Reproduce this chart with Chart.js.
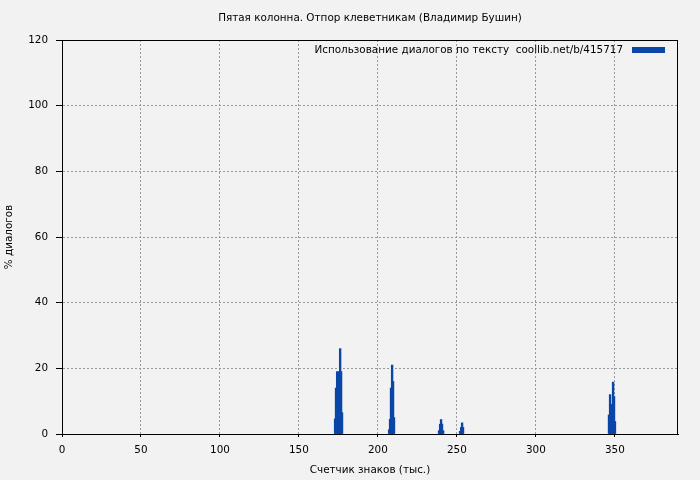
<!DOCTYPE html>
<html>
<head>
<meta charset="utf-8">
<script src="https://cdn.jsdelivr.net/npm/chart.js@4"></script>
<style>
  html, body { margin: 0; padding: 0; background: #f2f2f2; }
  #wrap { width: 700px; height: 480px; }
</style>
</head>
<body>
<div id="wrap"><canvas id="c" width="700" height="480"></canvas></div>
<script>
const chartTitle = 'Пятая колонна. Отпор клеветникам (Владимир Бушин)';
const seriesLabel = 'Использование диалогов по тексту  coollib.net/b/415717';
const xTitle = 'Счетчик знаков (тыс.)';
const yTitle = '% диалогов';

// positions in thousands of characters
const xPositions = [
  172.9, 173.5, 174.2, 174.8, 175.4, 176.1, 176.7, 177.3,
  207.1, 207.7, 208.3, 209.0, 209.6, 210.2,
  238.7, 239.4, 240.0, 240.6, 241.3,
  252.0, 252.7, 253.3, 253.9,
  346.3, 347.0, 347.6, 348.2, 348.9, 349.5, 350.1
];
// percentage of dialogues
const dialogPercent = [
  4.6, 14, 19, 10, 19, 26, 19, 6.5,
  1.3, 4.5, 14, 21, 16, 5,
  1, 3, 4.4, 3, 1,
  0.8, 2, 3.4, 2,
  5.8, 12, 9, 8.5, 15.8, 11.4, 3.8
];
const xTicks = [0, 50, 100, 150, 200, 250, 300, 350];
const yTicks = [0, 20, 40, 60, 80, 100, 120];

const FONT = 'DejaVu Sans';
const FS = 10.4;
const BLUE = '#0a46a8';

const points = xPositions.map((x, i) => ({ x: x, y: dialogPercent[i] }));

const framePlugin = {
  id: 'frame',
  afterDraw(chart) {
    const { ctx, chartArea: a } = chart;
    ctx.save();
    ctx.strokeStyle = '#000';
    ctx.lineWidth = 1;
    ctx.strokeRect(Math.round(a.left) + 0.5, Math.round(a.top) + 0.5,
                   Math.round(a.right - a.left) - 1, Math.round(a.bottom - a.top));
    // legend inside plot area
    ctx.font = FS + 'px "' + FONT + '"';
    ctx.fillStyle = '#000';
    ctx.textAlign = 'right';
    ctx.textBaseline = 'middle';
    ctx.fillText(chart.data.datasets[0].label, a.right - 55, a.top + 10.5);
    ctx.fillStyle = BLUE;
    ctx.fillRect(a.right - 46, a.top + 7, 33, 6);
    ctx.restore();
  }
};

new Chart(document.getElementById('c'), {
  type: 'bar',
  data: {
    datasets: [{
      label: seriesLabel,
      data: points,
      backgroundColor: BLUE,
      borderWidth: 0,
      barThickness: 1.7,
      grouped: false
    }]
  },
  options: {
    responsive: false,
    animation: false,
    events: [],
    layout: { padding: { left: 0, right: 22, top: 0, bottom: 0 } },
    plugins: {
      legend: { display: false },
      tooltip: { enabled: false },
      title: {
        display: true,
        fullSize: false,
        text: chartTitle,
        color: '#000',
        font: { family: FONT, size: FS, weight: 'normal', lineHeight: 1.2 },
        padding: { top: 12, bottom: 15.52 }
      }
    },
    scales: {
      x: {
        type: 'linear',
        min: 0,
        max: 390,
        offset: false,
        afterFit(s) { s.height = 46; },
        afterBuildTicks(s) { s.ticks = xTicks.map(v => ({ value: v })); },
        ticks: {
          color: '#000',
          font: { family: FONT, size: FS },
          padding: 7,
          maxRotation: 0,
          includeBounds: false
        },
        grid: {
          offset: false,
          color: '#999',
          tickColor: '#000',
          tickLength: 3,
          lineWidth: 1
        },
        border: { display: true, color: '#000', width: 1, dash: [2, 2] },
        title: {
          display: true,
          text: xTitle,
          color: '#000',
          font: { family: FONT, size: FS },
          padding: { top: 0, bottom: 3.5 }
        }
      },
      y: {
        min: 0,
        max: 120,
        afterFit(s) { s.width = 62; },
        afterBuildTicks(s) { s.ticks = yTicks.map(v => ({ value: v })); },
        ticks: {
          color: '#000',
          font: { family: FONT, size: FS },
          padding: 8
        },
        grid: {
          color: '#999',
          tickColor: '#000',
          tickLength: 6,
          lineWidth: 1
        },
        border: { display: true, color: '#000', width: 1, dash: [2, 2] },
        title: {
          display: true,
          text: yTitle,
          color: '#000',
          font: { family: FONT, size: FS },
          padding: { top: 3, bottom: 0 }
        }
      }
    }
  },
  plugins: [framePlugin]
});
</script>
</body>
</html>
